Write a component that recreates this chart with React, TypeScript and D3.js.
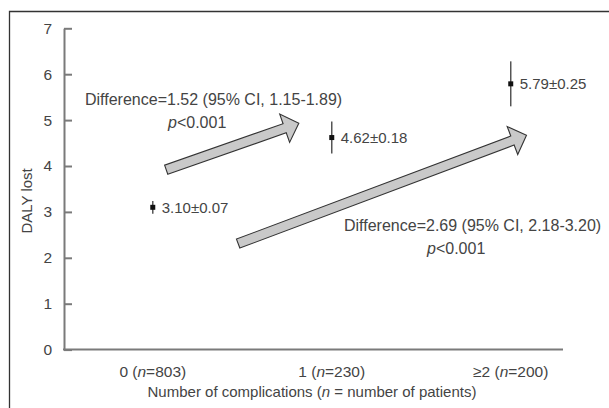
import React, { useEffect, useRef } from "react";
import * as d3 from "d3";

// DALY lost by number of complications (mean with error bar)

const categories = ["0", "1", "≥2"];
const patients = [803, 230, 200];
const means = [3.1, 4.62, 5.79];
const se = [0.07, 0.18, 0.25];
const ciLow = [2.96, 4.27, 5.3];
const ciHigh = [3.24, 4.97, 6.28];
const yTicks = [0, 1, 2, 3, 4, 5, 6, 7];

const diffLabels = [
  "Difference=1.52 (95% CI, 1.15-1.89)",
  "Difference=2.69 (95% CI, 2.18-3.20)",
];

// arrows in data space: [category index, DALY]
const arrowFrom = [
  [0.075, 3.92],
  [0.477, 2.31],
];
const arrowTo = [
  [0.816, 4.93],
  [2.088, 4.67],
];

const FONT = "'Liberation Sans', Arial, sans-serif";
const TEXT = "#444";

export default function App() {
  const ref = useRef<SVGSVGElement>(null);

  useEffect(() => {
    const W = 609,
      H = 408;
    const svg = d3.select(ref.current).attr("width", W).attr("height", H);
    svg.selectAll("*").remove();

    const x = d3.scaleLinear().domain([-0.496, 2.292]).range([64, 563]);
    const y = d3.scaleLinear().domain([0, 7]).range([349.6, 28.3]);

    // outer frame (only top and left edges fall inside the picture)
    svg
      .append("path")
      .attr("d", `M9.5,${H}V11.5H${W}`)
      .attr("fill", "none")
      .attr("stroke", "#333")
      .attr("stroke-width", 1.3);

    // Y axis
    const yAxis = svg
      .append("g")
      .attr("transform", `translate(${x(-0.496)},0)`)
      .call(
        d3
          .axisRight(y)
          .tickValues(yTicks)
          .tickFormat(d3.format("d"))
          .tickSize(8)
          .tickSizeOuter(0)
      );
    yAxis.select(".domain").attr("stroke", "#7a7a7a").attr("stroke-width", 2);
    yAxis.selectAll(".tick line").attr("stroke", "#7a7a7a").attr("stroke-width", 2);
    yAxis
      .selectAll(".tick text")
      .attr("x", -12)
      .attr("text-anchor", "end")
      .attr("fill", TEXT)
      .style("font-family", FONT)
      .style("font-size", "15.5px");

    // X axis line
    svg
      .append("line")
      .attr("x1", x(-0.496) - 1)
      .attr("x2", x(2.292))
      .attr("y1", y(0))
      .attr("y2", y(0))
      .attr("stroke", "#7a7a7a")
      .attr("stroke-width", 2);

    // category labels
    const cl = svg
      .selectAll(".cat")
      .data(categories)
      .join("text")
      .attr("class", "cat")
      .attr("x", (d, i) => x(i))
      .attr("y", 377)
      .attr("text-anchor", "middle")
      .attr("fill", TEXT)
      .style("font-family", FONT)
      .style("font-size", "15.5px");
    cl.append("tspan").text((d) => d + " (");
    cl.append("tspan").style("font-style", "italic").text("n");
    cl.append("tspan").text((d, i) => "=" + patients[i] + ")");

    // axis titles
    const xt = svg
      .append("text")
      .attr("x", 312)
      .attr("y", 397)
      .attr("text-anchor", "middle")
      .attr("fill", TEXT)
      .style("font-family", FONT)
      .style("font-size", "15px");
    xt.append("tspan").text("Number of complications (");
    xt.append("tspan").style("font-style", "italic").text("n");
    xt.append("tspan").text(" = number of patients)");

    svg
      .append("text")
      .attr("transform", `translate(32,${y(3.24)}) rotate(-90)`)
      .attr("text-anchor", "middle")
      .attr("fill", TEXT)
      .style("font-family", FONT)
      .style("font-size", "15px")
      .text("DALY lost");

    // error bars
    svg
      .selectAll(".err")
      .data(means)
      .join("line")
      .attr("class", "err")
      .attr("x1", (d, i) => x(i))
      .attr("x2", (d, i) => x(i))
      .attr("y1", (d, i) => y(ciHigh[i]))
      .attr("y2", (d, i) => y(ciLow[i]))
      .attr("stroke", "#555")
      .attr("stroke-width", 1.5);

    svg
      .selectAll(".pt")
      .data(means)
      .join("rect")
      .attr("class", "pt")
      .attr("x", (d, i) => x(i) - 2.5)
      .attr("y", (d) => y(d) - 2.5)
      .attr("width", 5)
      .attr("height", 5)
      .attr("fill", "#111");

    svg
      .selectAll(".val")
      .data(means)
      .join("text")
      .attr("class", "val")
      .attr("x", (d, i) => x(i) + 9)
      .attr("y", (d) => y(d) + 5.5)
      .attr("fill", TEXT)
      .style("font-family", FONT)
      .style("font-size", "15px")
      .text((d, i) => d.toFixed(2) + "±" + se[i].toFixed(2));

    // block arrows
    const arrowPath = (from: number[], to: number[]) => {
      const tx = x(from[0]),
        ty = y(from[1]);
      const px = x(to[0]),
        py = y(to[1]);
      const len = Math.hypot(px - tx, py - ty);
      const ux = (px - tx) / len,
        uy = (py - ty) / len;
      const nx = -uy,
        ny = ux;
      const sw = 4.8,
        hw = 15,
        hl = 15;
      const bx = px - ux * hl,
        by = py - uy * hl;
      const pts = [
        [tx + nx * sw, ty + ny * sw],
        [bx + nx * sw, by + ny * sw],
        [bx + nx * hw, by + ny * hw],
        [px, py],
        [bx - nx * hw, by - ny * hw],
        [bx - nx * sw, by - ny * sw],
        [tx - nx * sw, ty - ny * sw],
      ];
      return "M" + pts.map((p) => p.join(",")).join("L") + "Z";
    };

    svg
      .selectAll(".arrow")
      .data(arrowFrom)
      .join("path")
      .attr("class", "arrow")
      .attr("d", (d, i) => arrowPath(d, arrowTo[i]))
      .attr("fill", "#c9c9c9")
      .attr("stroke", "#333")
      .attr("stroke-width", 1.1)
      .attr("stroke-linejoin", "miter");

    // difference annotations
    const notePos = [
      [85, 105, 168, 128],
      [344, 231, 427, 254],
    ];
    diffLabels.forEach((label, i) => {
      const [lx, ly, px, py] = notePos[i];
      svg
        .append("text")
        .attr("x", lx)
        .attr("y", ly)
        .attr("fill", TEXT)
        .style("font-family", FONT)
        .style("font-size", "16px")
        .text(label);
      const p = svg
        .append("text")
        .attr("x", px)
        .attr("y", py)
        .attr("fill", TEXT)
        .style("font-family", FONT)
        .style("font-size", "16px");
      p.append("tspan").style("font-style", "italic").text("p");
      p.append("tspan").text("<0.001");
    });
  }, []);

  return (
    <svg
      ref={ref}
      style={{ position: "absolute", left: 0, top: 0, display: "block" }}
    ></svg>
  );
}
